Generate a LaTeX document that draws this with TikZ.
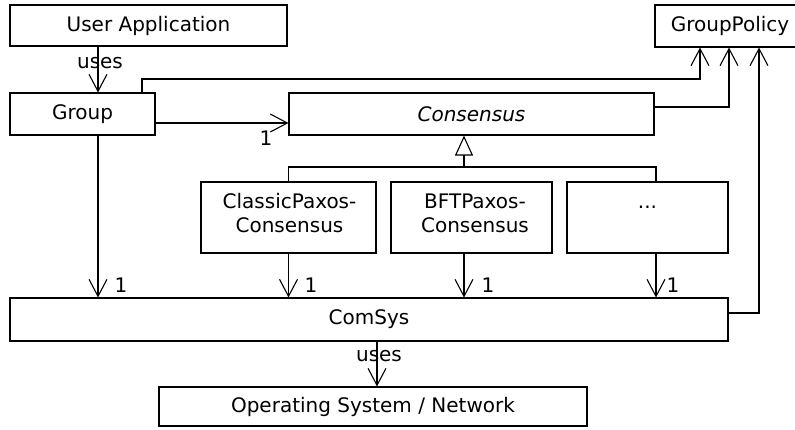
\documentclass[tikz,border=0pt]{standalone}
\usepackage{fontspec}
\setmainfont{DejaVu Sans}
\usetikzlibrary{arrows.meta}
\begin{document}
\begin{tikzpicture}[x=1pt,y=-1pt,line width=1.1pt,
  txt/.style={font=\fontsize{20}{24}\selectfont},
  box/.style={draw,rectangle,inner sep=0pt,txt},
  lbl/.style={txt,inner sep=0pt},
  openarrow/.style={-{Straight Barb[length=17pt,width=18pt,line width=1.1pt]}},
  inh/.style={-{Triangle[open,length=20pt,width=18pt,fill=white,line width=1.1pt]}}]
\useasboundingbox (0,0) rectangle (795,429);
% boxes
\node[box,minimum width=277pt,minimum height=41pt] (ua) at (148.5,25.5) {User Application};
\node[box,minimum width=145pt,minimum height=42pt] (grp) at (82.5,114) {Group};
\node[box,minimum width=365pt,minimum height=42pt] (cons) at (471.5,114) {\itshape Consensus};
\node[box,minimum width=150pt,minimum height=42pt] (gp) at (730,26) {GroupPolicy};
\node[box,minimum width=175pt,minimum height=71pt] (cp) at (288.5,217.5) {};
\node[box,minimum width=161pt,minimum height=71pt] (bft) at (471.5,217.5) {};
\node[box,minimum width=161pt,minimum height=71pt] (dots) at (647.5,217.5) {};
\node[lbl,anchor=base,align=center] (cpt) at (289.5,232) {ClassicPaxos-\\Consensus};
\node[lbl,anchor=base,align=center] (bftt) at (475,232) {BFTPaxos-\\Consensus};
\node[lbl,anchor=base] (dotst) at (647.5,208) {...};
\node[box,minimum width=718pt,minimum height=43pt] (cs) at (369,319.5) {ComSys};
\node[box,minimum width=428pt,minimum height=39pt] (os) at (373,406.5) {Operating System / Network};
% uses
\draw[openarrow] ([xshift=-50.5]ua.south) -- ([xshift=15.5]grp.north);
\node[lbl] (u1) at (100,63) {uses};
\draw[openarrow] ([xshift=8]cs.south) -- ([xshift=4]os.north);
\node[lbl] (u2) at (379,356) {uses};
% group -> consensus
\draw[openarrow] ([yshift=-9]grp.east) -- ([yshift=-9]cons.west);
\node[lbl] (m1) at (266,138) {1};
% to GroupPolicy
\draw[openarrow] ([xshift=59.5]grp.north) |- (420,79) -| ([xshift=-30]gp.south);
\draw[openarrow] ([yshift=7]cons.east) -| ([xshift=-1]gp.south);
\draw[openarrow] ([yshift=6.5]cs.east) -| ([xshift=29]gp.south);
% inheritance
\coordinate (j) at (464,167);
\draw (cp.north) |- (j) -- (656,167) -- ([xshift=8.5]dots.north);
\draw[inh] (j) -- (cons.south -| j);
% down to ComSys
\draw[openarrow] ([xshift=15.5]grp.south) -- (cs.north -| 98,0);
\draw[openarrow] (cp.south) -- (cs.north -| cp.south);
\draw[openarrow] ([xshift=-7.5]bft.south) -- (cs.north -| j);
\draw[openarrow] ([xshift=8.5]dots.south) -- (cs.north -| 656,0);
\node[lbl] (m2) at (121,285) {1};
\node[lbl] (m3) at (311,285) {1};
\node[lbl] (m4) at (488,285) {1};
\node[lbl] (m5) at (673,285) {1};
\end{tikzpicture}
\end{document}
